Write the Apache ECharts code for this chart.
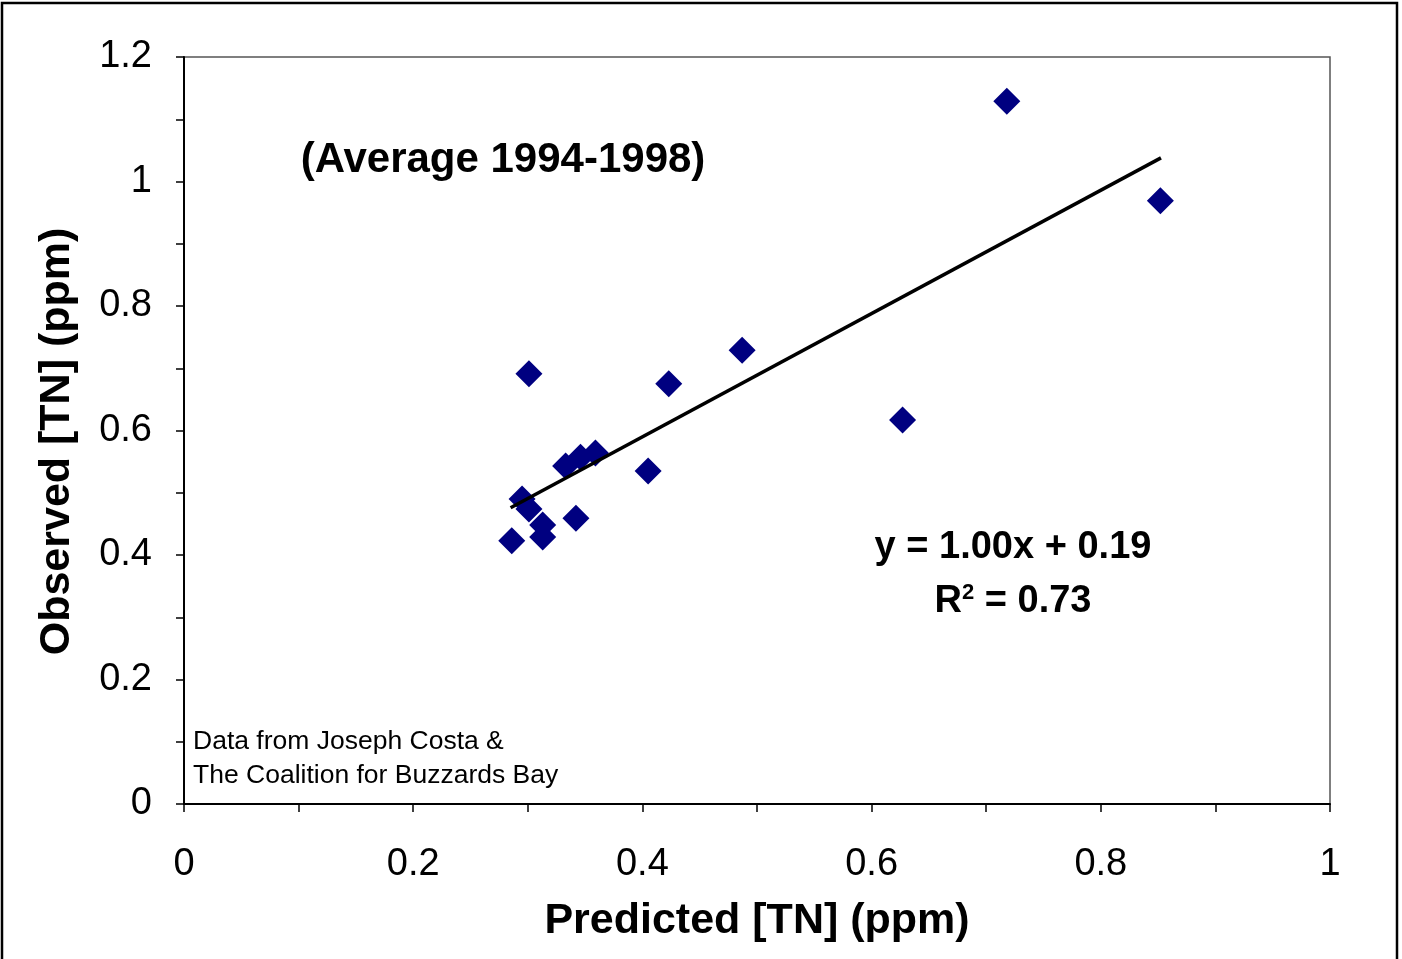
<!DOCTYPE html>
<html>
<head>
<meta charset="utf-8">
<script src="https://cdn.jsdelivr.net/npm/echarts@6/dist/echarts.min.js"></script>
<style>html,body{margin:0;padding:0;background:#fff}#c{width:1402px;height:959px}</style>
</head>
<body>
<div id="c"></div>
<script>
// Data
const predicted = [0.286, 0.313, 0.313, 0.342, 0.301, 0.295, 0.333, 0.346, 0.359, 0.301, 0.405, 0.423, 0.487, 0.627, 0.718, 0.852];
const observed  = [0.423, 0.429, 0.448, 0.459, 0.474, 0.490, 0.543, 0.557, 0.564, 0.691, 0.535, 0.675, 0.729, 0.617, 1.129, 0.969];
const trendX = [0.285, 0.8525];
const trendY = [0.476, 1.038];
const xTicks = [0, 0.2, 0.4, 0.6, 0.8, 1];
const yTicks = [0, 0.2, 0.4, 0.6, 0.8, 1, 1.2];
const titleText = '(Average 1994-1998)';
const eqText = 'y = 1.00x + 0.19';
const r2Value = '0.73';
const sourceLines = ['Data from Joseph Costa &', 'The Coalition for Buzzards Bay'];

const FONT = '"Liberation Sans", Arial, sans-serif';
const fmt = (ticks) => (v) => {
  const hit = ticks.find(t => Math.abs(t - v) < 1e-6);
  return hit === undefined ? '' : String(hit);
};

const chart = echarts.init(document.getElementById('c'), null, {renderer: 'canvas'});
chart.setOption({
  animation: false,
  backgroundColor: '#fff',
  grid: {left: 184, right: 72, top: 57, bottom: 155, show: true, borderColor: '#555', borderWidth: 1.5},
  xAxis: {
    type: 'value', min: 0, max: 1, interval: 0.1,
    axisLine: {onZero: false, lineStyle: {color: '#000', width: 2}},
    axisTick: {inside: false, length: 8, lineStyle: {color: '#000', width: 1.5}},
    splitLine: {show: false},
    axisLabel: {formatter: fmt(xTicks), margin: 42, fontSize: 38, color: '#000', fontFamily: FONT, showMinLabel: true, showMaxLabel: true},
    name: 'Predicted [TN] (ppm)', nameLocation: 'middle', nameGap: 96,
    nameTextStyle: {fontSize: 43, fontWeight: 'bold', color: '#000', fontFamily: FONT}
  },
  yAxis: {
    type: 'value', min: 0, max: 1.2, interval: 0.1,
    axisLine: {onZero: false, lineStyle: {color: '#000', width: 2}},
    axisTick: {inside: false, length: 8, lineStyle: {color: '#000', width: 1.5}},
    splitLine: {show: false},
    axisLabel: {formatter: fmt(yTicks), margin: 32, fontSize: 38, color: '#000', fontFamily: FONT, showMinLabel: true, showMaxLabel: true, padding: [9, 0, 0, 0]},
    name: 'Observed [TN] (ppm)', nameLocation: 'middle', nameGap: 105, nameRotate: 90,
    nameTextStyle: {fontSize: 43, fontWeight: 'bold', color: '#000', fontFamily: FONT, padding: [0, 22, 0, 0]}
  },
  series: [
    {
      type: 'line', data: trendX.map((x, i) => [x, trendY[i]]),
      symbol: 'none', lineStyle: {color: '#000', width: 3.5}, z: 3
    },
    {
      type: 'scatter', data: predicted.map((x, i) => [x, observed[i]]),
      symbol: 'diamond', symbolSize: 27, itemStyle: {color: '#000080', opacity: 1}, z: 2
    }
  ],
  graphic: [
    {type: 'rect', shape: {x: 2, y: 3, width: 1395, height: 1000}, style: {fill: null, stroke: '#000', lineWidth: 2.5}, z: 100, silent: true},
    {type: 'text', x: 503, y: 160, style: {text: titleText, fontSize: 42, fontWeight: 'bold', fill: '#000', fontFamily: FONT, align: 'center', verticalAlign: 'middle'}},
    {type: 'text', x: 1013, y: 548, style: {text: eqText, fontSize: 38, fontWeight: 'bold', fill: '#000', fontFamily: FONT, align: 'center', verticalAlign: 'middle'}},
    {type: 'text', x: 1013, y: 602, style: {
      text: 'R{sup|2} = ' + r2Value, fontSize: 38, fontWeight: 'bold', fill: '#000', fontFamily: FONT, align: 'center', verticalAlign: 'middle',
      rich: {sup: {fontSize: 22, fontWeight: 'bold', fontFamily: FONT, fill: '#000', verticalAlign: 'top', padding: [0, 0, 18, 0]}}
    }},
    {type: 'text', x: 193, y: 742, style: {text: sourceLines[0], fontSize: 26.5, fill: '#000', fontFamily: FONT, align: 'left', verticalAlign: 'middle'}},
    {type: 'text', x: 193, y: 776, style: {text: sourceLines[1], fontSize: 26.5, fill: '#000', fontFamily: FONT, align: 'left', verticalAlign: 'middle'}}
  ]
});
</script>
</body>
</html>
